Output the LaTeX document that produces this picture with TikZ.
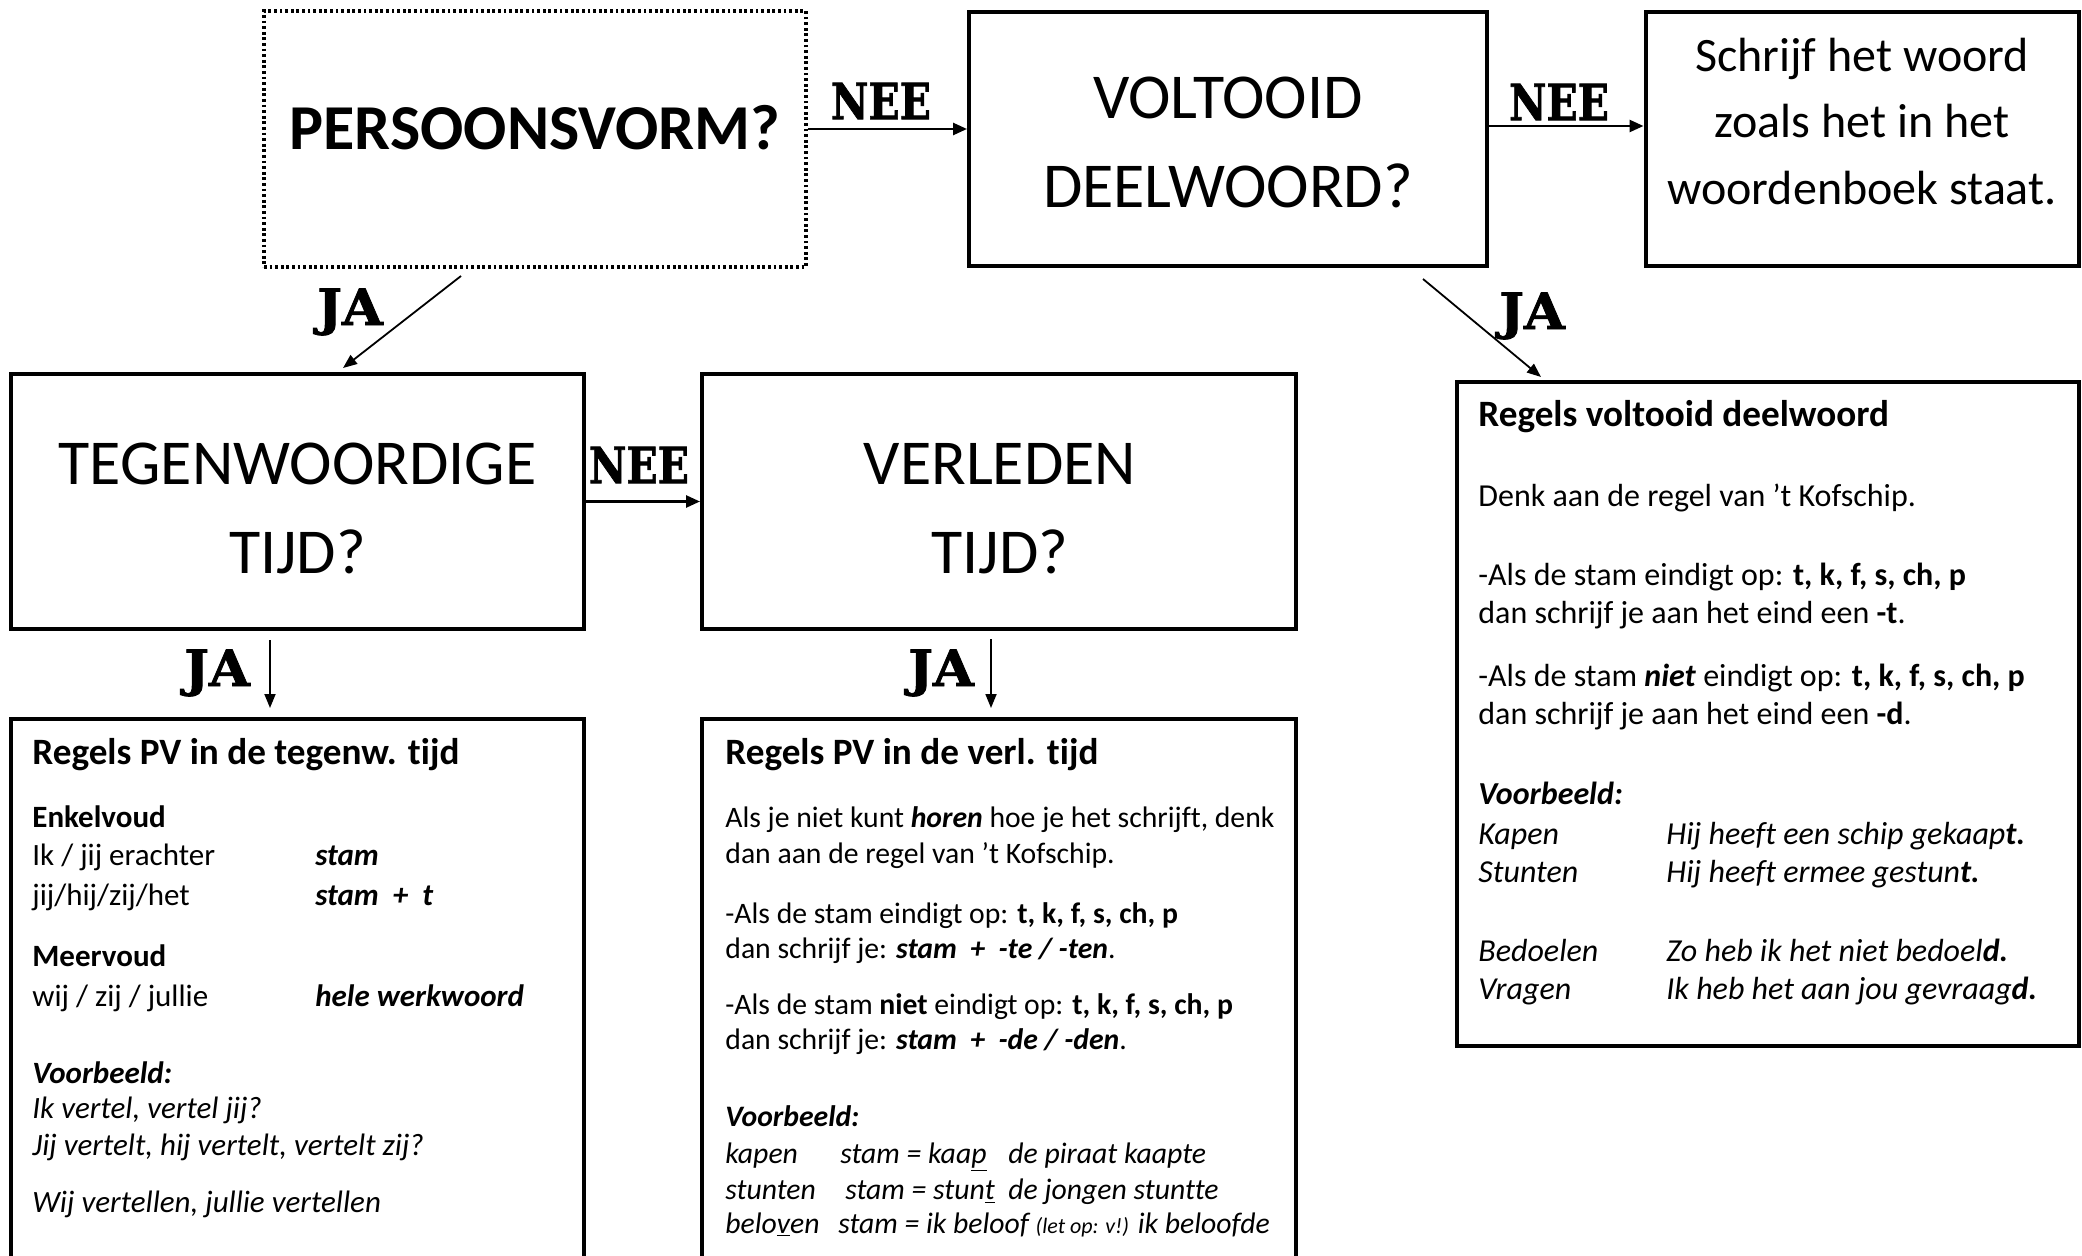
\documentclass[tikz,border=0pt]{standalone}
\usepackage{fontspec}
\setmainfont{Carlito}[Ligatures={NoCommon}]
\newfontfamily\ynfont{DejaVu Serif}[BoldFeatures={FakeBold=1.6}]
\usetikzlibrary{arrows.meta}
\begin{document}
\begin{tikzpicture}[x=0.5pt,y=-0.5pt,
  box/.style={draw, line width=2pt, rectangle, inner sep=0pt},
  dotbox/.style={draw, line width=1.6pt, dash pattern=on 1.4pt off 1.4pt, rectangle, inner sep=0pt},
  arr/.style={line width=1.3pt, -{Triangle[length=7pt,width=6pt]}},
  arrthin/.style={line width=0.9pt, -{Triangle[length=7pt,width=5.5pt]}},
  big/.style={anchor=base, inner sep=0pt, font=\fontsize{32}{38}\selectfont},
  mid/.style={anchor=base, inner sep=0pt, font=\fontsize{24}{29}\selectfont},
  yn/.style={inner sep=0pt, font=\ynfont\bfseries\fontsize{25}{30}\selectfont},
  ttl/.style={anchor=base west, inner sep=0pt, font=\bfseries\fontsize{18.6}{22}\selectfont},
  ta/.style={anchor=base west, inner sep=0pt, font=\fontsize{15.5}{19}\selectfont},
  tb/.style={anchor=base west, inner sep=0pt, font=\fontsize{14.85}{18}\selectfont},
  tc/.style={anchor=base west, inner sep=0pt, font=\fontsize{16}{19}\selectfont},
]
\useasboundingbox (0,0) rectangle (2082,1256);
\fill[white] (0,0) rectangle (2082,1256);

% boxes
\node[dotbox, minimum width=271pt, minimum height=128pt] (pv) at (535,139) {};
\node[box, minimum width=259pt, minimum height=127pt] (volt) at (1228,139) {};
\node[box, minimum width=216.5pt, minimum height=127pt] (schr) at (1862,139) {};
\node[box, minimum width=286.5pt, minimum height=127.5pt] (tgw) at (297.5,501.5) {};
\node[box, minimum width=297pt, minimum height=127.5pt] (vrl) at (999,501.5) {};
\node[box, minimum width=286.5pt, minimum height=285pt, anchor=north] (rtgw) at (297.5,717) {};
\node[box, minimum width=297pt, minimum height=285pt, anchor=north] (rvrl) at (999,717) {};
\node[box, minimum width=311pt, minimum height=332pt, anchor=north] (rvd) at (1768,380) {};

% big texts
\node[big, font=\bfseries\fontsize{32}{38}\selectfont] (tpv) at (535,150) {PERSOONSVORM?};
\node[big] (tv1) at (1228,119) {VOLTOOID};
\node[big] (tv2) at (1228,208) {DEELWOORD?};
\node[mid] (ts1) at (1862,72) {Schrijf het woord};
\node[mid] (ts2) at (1862,138) {zoals het in het};
\node[mid] (ts3) at (1862,205) {woordenboek staat.};
\node[big] (tt1) at (297.5,485) {TEGENWOORDIGE};
\node[big] (tt2) at (297.5,574) {TIJD?};
\node[big] (tr1) at (1000,485) {VERLEDEN};
\node[big] (tr2) at (1000,574) {TIJD?};

% connectors
\draw[arr] ([yshift=5pt]pv.east) -- ([yshift=5pt]volt.west);
\draw[arr] ([yshift=6.5pt]volt.east) -- ([yshift=6.5pt]schr.west);
\draw[arr] (tgw.east) -- (vrl.west);
\coordinate (j1s) at (461,276); \coordinate (j1e) at (343,368);
\coordinate (j2s) at (1423,279); \coordinate (j2e) at (1541,377);
\coordinate (j3s) at (270,640); \coordinate (j3e) at (270,708);
\coordinate (j4s) at (991,639); \coordinate (j4e) at (991,708);
\draw[arrthin] (j1s) -- (j1e);
\draw[arrthin] (j2s) -- (j2e);
\draw[arrthin] (j3s) -- (j3e);
\draw[arrthin] (j4s) -- (j4e);

% NEE / JA labels
\node[yn] (nee1) at (881,101) {\scalebox{0.82}[1]{NEE}};
\node[yn] (nee2) at (1559,102) {\scalebox{0.82}[1]{NEE}};
\node[yn] (nee3) at (639,465) {\scalebox{0.82}[1]{NEE}};
\node[yn] (ja1) at (350,312) {\scalebox{1.05}[1]{JA}};
\node[yn] (ja2) at (1532,316) {\scalebox{1.05}[1]{JA}};
\node[yn] (ja3) at (217,673) {\scalebox{1.05}[1]{JA}};
\node[yn] (ja4) at (941,673) {\scalebox{1.05}[1]{JA}};

% rules present tense
\node[ttl] (a1) at (32,764) {Regels PV in de tegenw. tijd};
\node[ta] (a2) at (32,827) {\textbf{Enkelvoud}};
\node[ta] (a3) at (32,865) {Ik / jij erachter};
\node[ta] (a4) at (315,865) {\textbf{\textit{stam}}};
\node[ta] (a5) at (32,905) {jij/hij/zij/het};
\node[ta] (a6) at (315,905) {\textbf{\textit{stam\ \ +\ \ t}}};
\node[ta] (a7) at (32,966) {\textbf{Meervoud}};
\node[ta] (a8) at (32,1006) {wij / zij / jullie};
\node[ta] (a9) at (315,1006) {\textbf{\textit{hele werkwoord}}};
\node[ta] (a10) at (32,1083) {\textbf{\textit{Voorbeeld:}}};
\node[ta] (a11) at (32,1118) {\textit{Ik vertel, vertel jij?}};
\node[ta] (a12) at (32,1155) {\textit{Jij vertelt, hij vertelt, vertelt zij?}};
\node[ta] (a13) at (32,1212) {\textit{Wij vertellen, jullie vertellen}};

% rules past tense
\node[ttl] (b1) at (725,764) {Regels PV in de verl. tijd};
\node[tb] (b2) at (725,827) {Als je niet kunt \textbf{\textit{horen}} hoe je het schrijft, denk};
\node[tb] (b3) at (725,863) {dan aan de regel van ’t Kofschip.};
\node[tb] (b4) at (725,923) {-Als de stam eindigt op: \textbf{t, k, f, s, ch, p}};
\node[tb] (b5) at (725,958) {dan schrijf je: \textbf{\textit{stam\ \ +\ \ -te / -ten}}.};
\node[tb] (b6) at (725,1014) {-Als de stam \textbf{niet} eindigt op: \textbf{t, k, f, s, ch, p}};
\node[tb] (b7) at (725,1049) {dan schrijf je: \textbf{\textit{stam\ \ +\ \ -de / -den}}.};
\node[tb] (b8) at (725,1126) {\textbf{\textit{Voorbeeld:}}};
\node[tb] (b9) at (725,1163) {\textit{kapen}};
\node[tb] (b10) at (840,1163) {\textit{stam = kaa\underline{p}}};
\node[tb] (b11) at (1008,1163) {\textit{de piraat kaapte}};
\node[tb] (b12) at (725,1199) {\textit{stunten}};
\node[tb] (b13) at (845,1199) {\textit{stam = stun\underline{t}}};
\node[tb] (b14) at (1008,1199) {\textit{de jongen stuntte}};
\node[tb] (b15) at (725,1233) {\textit{belo\underline{v}en}};
\node[tb] (b16) at (838,1233) {\textit{stam = ik beloof {\fontsize{11}{13}\selectfont (let op: v!)} ik beloofde}};

% rules past participle
\node[ttl] (c1) at (1478,427) {Regels voltooid deelwoord};
\node[tc] (c2) at (1478,507) {Denk aan de regel van ’t Kofschip.};
\node[tc] (c3) at (1478,585) {-Als de stam eindigt op: \textbf{t, k, f, s, ch, p}};
\node[tc] (c4) at (1478,623) {dan schrijf je aan het eind een \textbf{-t}.};
\node[tc] (c5) at (1478,686) {-Als de stam \textbf{\textit{niet}} eindigt op: \textbf{t, k, f, s, ch, p}};
\node[tc] (c6) at (1478,724) {dan schrijf je aan het eind een \textbf{-d}.};
\node[tc] (c7) at (1478,804) {\textbf{\textit{Voorbeeld:}}};
\node[tc] (c8) at (1478,844) {\textit{Kapen}};
\node[tc] (c9) at (1666,844) {\textit{Hij heeft een schip gekaap\textbf{t.}}};
\node[tc] (c10) at (1478,882) {\textit{Stunten}};
\node[tc] (c11) at (1666,882) {\textit{Hij heeft ermee gestun\textbf{t.}}};
\node[tc] (c12) at (1478,961) {\textit{Bedoelen}};
\node[tc] (c13) at (1666,961) {\textit{Zo heb ik het niet bedoel\textbf{d.}}};
\node[tc] (c14) at (1478,999) {\textit{Vragen}};
\node[tc] (c15) at (1666,999) {\textit{Ik heb het aan jou gevraag\textbf{d.}}};
\end{tikzpicture}
\end{document}
